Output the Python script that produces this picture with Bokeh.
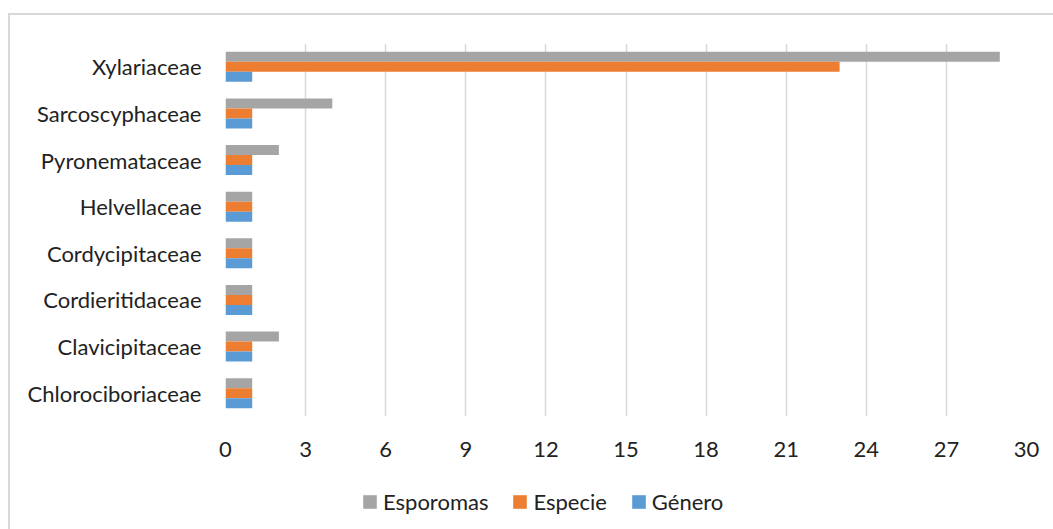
from bokeh.plotting import figure
from bokeh.layouts import column
from bokeh.models import FactorRange, FixedTicker, Legend, LegendItem, ColumnDataSource
from bokeh.transform import dodge
from bokeh.embed import file_html
from bokeh.resources import INLINE

# Families, listed bottom to top
familias = ["Chlorociboriaceae", "Clavicipitaceae", "Cordieritidaceae", "Cordycipitaceae",
            "Helvellaceae", "Pyronemataceae", "Sarcoscyphaceae", "Xylariaceae"]
esporomas = [1, 2, 1, 1, 1, 2, 4, 29]
especie = [1, 1, 1, 1, 1, 1, 1, 23]
genero = [1, 1, 1, 1, 1, 1, 1, 1]
series = ["Esporomas", "Especie", "Género"]
colores = ["#A5A5A5", "#ED7D31", "#5B9BD5"]
x_ticks = [0, 3, 6, 9, 12, 15, 18, 21, 24, 27, 30]

FONT = "Lato"
FSIZE = "22px"
TEXT = "#222222"

src = ColumnDataSource(dict(fam=familias, esporomas=esporomas, especie=especie, genero=genero))

p = figure(width=1043, height=460, y_range=FactorRange(factors=familias), x_range=(0, 30),
           output_backend="svg", toolbar_location=None,
           min_border_left=215, min_border_right=27, min_border_top=28, min_border_bottom=59)
p.outline_line_color = None
p.background_fill_color = "white"
p.border_fill_color = "white"

bh = 0.215
cols = ["esporomas", "especie", "genero"]
offsets = [bh, 0, -bh]
for c, off, col in zip(cols, offsets, colores):
    p.hbar(y=dodge("fam", off, range=p.y_range), right=c, left=0, height=bh,
           source=src, color=col, line_color=None)

# x axis: ticks every 3, vertical gridlines only
p.xaxis.ticker = FixedTicker(ticks=x_ticks)
p.xaxis.axis_line_color = None
p.xaxis.major_tick_line_color = None
p.xaxis.minor_tick_line_color = None
p.xaxis.major_label_standoff = 19
p.xaxis.major_label_text_font = FONT
p.xaxis.major_label_text_font_size = FSIZE
p.xaxis.major_label_text_color = TEXT
p.xgrid.ticker = FixedTicker(ticks=x_ticks)
p.xgrid.grid_line_color = "#d9d9d9"
p.xgrid.grid_line_width = 1.5
p.ygrid.grid_line_color = None

p.yaxis.axis_line_color = None
p.yaxis.major_tick_line_color = None
p.yaxis.minor_tick_line_color = None
p.yaxis.major_label_standoff = 18
p.yaxis.major_label_text_font = FONT
p.yaxis.major_label_text_font_size = FSIZE
p.yaxis.major_label_text_color = TEXT

# legend strip under the chart; its swatch renderers sit outside the visible range
leg = figure(width=1043, height=54, x_range=(0, 1), y_range=(0, 1),
             output_backend="svg", toolbar_location=None,
             min_border=0, x_axis_location=None, y_axis_location=None)
leg.outline_line_color = None
leg.grid.grid_line_color = None
leg.background_fill_color = "white"
leg.border_fill_color = "white"
swatch = ColumnDataSource(dict(y=[-5], right=[0]))
items = []
for name, col in zip(series, colores):
    r = leg.hbar(y="y", right="right", left=0, height=0.5, source=swatch,
                 color=col, line_color=None)
    items.append(LegendItem(label=name, renderers=[r]))

legend = Legend(items=items, orientation="horizontal", location=(136, 14),
                glyph_width=17, glyph_height=17, label_standoff=5, spacing=23,
                padding=0, margin=0, border_line_color=None, background_fill_alpha=0,
                label_text_font=FONT, label_text_font_size=FSIZE, label_text_color=TEXT)
leg.add_layout(legend)

layout = column(p, leg, spacing=0)
layout.styles = {"margin-left": "8px", "margin-top": "13px",
                 "border-left": "2px solid #d9d9d9", "border-top": "2px solid #d9d9d9"}

open("out.html", "w").write(file_html(layout, INLINE))
